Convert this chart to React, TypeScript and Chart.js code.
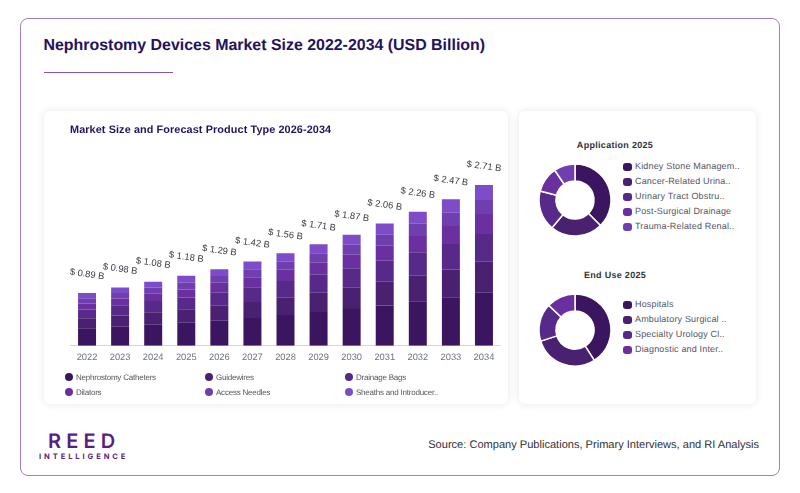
import React, { useEffect, useRef } from "react";
import { Chart, registerables } from "chart.js";

Chart.register(...registerables);

const years = ["2022","2023","2024","2025","2026","2027","2028","2029","2030","2031","2032","2033","2034"];
const totals = [0.89,0.98,1.08,1.18,1.29,1.42,1.56,1.71,1.87,2.06,2.26,2.47,2.71];
const catheters = [0.295,0.32,0.354,0.385,0.422,0.468,0.517,0.568,0.618,0.68,0.748,0.815,0.894];
const guidewires = [0.167,0.19,0.208,0.228,0.253,0.268,0.292,0.326,0.36,0.399,0.433,0.472,0.523];
const drainageBags = [0.15,0.172,0.191,0.2,0.219,0.25,0.281,0.304,0.326,0.354,0.393,0.427,0.467];
const dilators = [0.1,0.116,0.124,0.133,0.169,0.169,0.191,0.202,0.23,0.253,0.275,0.304,0.337];
const accessNeedles = [0.089,0.09,0.105,0.117,0.112,0.135,0.135,0.157,0.169,0.185,0.208,0.226,0.236];
const sheaths = [0.089,0.092,0.098,0.117,0.115,0.13,0.144,0.153,0.167,0.189,0.203,0.226,0.253];
const seriesNames = ["Nephrostomy Catheters","Guidewires","Drainage Bags","Dilators","Access Needles","Sheaths and Introducer.."];
const seriesColors = ["#3b1560","#4a2070","#572a8a","#6a30a0","#6f3fb0","#7d4dc9"];
const seriesValues = [catheters, guidewires, drainageBags, dilators, accessNeedles, sheaths];

const applicationLabels = ["Kidney Stone Managem..","Cancer-Related Urina..","Urinary Tract Obstru..","Post-Surgical Drainage","Trauma-Related Renal.."];
const applicationValues = [37.5,23.5,18,11.5,9.5];
const endUseLabels = ["Hospitals","Ambulatory Surgical ..","Specialty Urology Cl..","Diagnostic and Inter.."];
const endUseValues = [41,29,17,13];

const ARIAL = "'Liberation Sans', Arial, sans-serif";

const totalLabels = {
  id: "totalLabels",
  beforeDraw(chart: any) { chart.ctx.textRendering = "geometricPrecision"; },
  afterDatasetsDraw(chart: any) {
    const { ctx, scales } = chart;
    ctx.save();
    ctx.font = `9.4px ${ARIAL}`;
    ctx.fillStyle = "#3a3a44";
    ctx.textAlign = "center";
    ctx.textBaseline = "middle";
    totals.forEach((t, i) => {
      const x = scales.x.getPixelForValue(i);
      const y = scales.y.getPixelForValue(t) - 18.5;
      ctx.save();
      ctx.translate(x, y);
      ctx.rotate((8 * Math.PI) / 180);
      ctx.fillText(`$ ${t.toFixed(2)} B`, 0, 0);
      ctx.restore();
    });
    ctx.restore();
  },
};

function BarChart() {
  const ref = useRef<HTMLCanvasElement>(null);
  useEffect(() => {
    const chart = new Chart(ref.current!, {
      type: "bar",
      data: {
        labels: years,
        datasets: seriesNames.map((n, i) => ({
          label: n,
          data: seriesValues[i],
          backgroundColor: seriesColors[i],
          borderWidth: 0,
          barPercentage: 0.544,
          categoryPercentage: 1,
        })),
      },
      options: {
        animation: false,
        responsive: false,
        devicePixelRatio: 1,
        layout: { padding: { left: 26.5, right: 7.5, top: 56.8, bottom: 0 } },
        plugins: { legend: { display: false }, tooltip: { enabled: false } },
        scales: {
          x: {
            stacked: true,
            grid: { display: false, drawTicks: false },
            border: { color: "#d6d6e2", width: 1 },
            ticks: { color: "#6b7280", font: { family: ARIAL, size: 9.3 }, padding: 6, maxRotation: 0, autoSkip: false },
            afterFit(s: any) { s.height = 58.3; },
          },
          y: { stacked: true, display: false, min: 0, max: 3 },
        },
      },
      plugins: [totalLabels],
    } as any);
    return () => chart.destroy();
  }, []);
  return <canvas ref={ref} width={464} height={293} style={{ position: "absolute", left: 44, top: 111, display: "block" }} />;
}

function Donut({ values, cy }: { values: number[]; cy: number }) {
  const ref = useRef<HTMLCanvasElement>(null);
  useEffect(() => {
    const chart = new Chart(ref.current!, {
      type: "doughnut",
      data: {
        labels: values.map((_, i) => String(i)),
        datasets: [{ data: values, backgroundColor: seriesColors.slice(0, values.length), borderColor: "#ffffff", borderWidth: 1.5 }],
      },
      options: {
        animation: false,
        responsive: false,
        devicePixelRatio: 1,
        radius: 36,
        cutout: "53%",
        plugins: { legend: { display: false }, tooltip: { enabled: false } },
      },
    } as any);
    return () => chart.destroy();
  }, []);
  return <canvas ref={ref} width={90} height={90} style={{ position: "absolute", left: 530.3, top: cy - 45, display: "block" }} />;
}

function Text({ x, y, children, style }: any) {
  return (
    <div style={{ position: "absolute", left: x, top: y, transform: "translateY(-50%)", whiteSpace: "nowrap", lineHeight: 1, textRendering: "geometricPrecision", ...style }}>
      {children}
    </div>
  );
}

function DonutLegend({ labels, y0 }: { labels: string[]; y0: number }) {
  return (
    <>
      {labels.map((l, i) => (
        <React.Fragment key={l}>
          <div style={{ position: "absolute", left: 623, top: y0 + i * 15 - 4.2, width: 8.5, height: 8.5, borderRadius: 3, background: seriesColors[i] }} />
          <Text x={635} y={y0 + i * 15 - 0.3} style={{ font: `9px ${ARIAL}`, letterSpacing: 0.17, color: "#55555f" }}>{l}</Text>
        </React.Fragment>
      ))}
    </>
  );
}

const legendColX = [69, 209, 349];
const legendRowY = [377, 392];

export default function App() {
  return (
    <div style={{ position: "fixed", left: 0, top: 0, width: 800, height: 493, background: "#fff", overflow: "hidden" }}>
      <div style={{ position: "absolute", left: 20, top: 18, width: 760, height: 458, boxSizing: "border-box", border: "1px solid #a67fc2", borderRadius: 8 }} />
      <Text x={43.5} y={45.5} style={{ font: `bold 15.93px ${ARIAL}`, color: "#24125f" }}>Nephrostomy Devices Market Size 2022-2034 (USD Billion)</Text>
      <div style={{ position: "absolute", left: 44, top: 71.5, width: 129, height: 1.2, background: "#8c52ad" }} />

      <div style={{ position: "absolute", left: 44, top: 111, width: 464, height: 293, borderRadius: 6, background: "#fff", boxShadow: "0 0 8px rgba(0,0,0,0.10)" }} />
      <div style={{ position: "absolute", left: 519, top: 111, width: 237, height: 293, borderRadius: 6, background: "#fff", boxShadow: "0 0 8px rgba(0,0,0,0.10)" }} />

      <BarChart />
      <Text x={70} y={130} style={{ font: `bold 10.85px ${ARIAL}`, color: "#24125f", letterSpacing: 0.1 }}>Market Size and Forecast Product Type 2026-2034</Text>
      {seriesNames.map((n, i) => {
        const cx = legendColX[i % 3];
        const cy = legendRowY[Math.floor(i / 3)];
        return (
          <React.Fragment key={n}>
            <div style={{ position: "absolute", left: cx - 4, top: cy - 4, width: 8, height: 8, borderRadius: "50%", background: seriesColors[i] }} />
            <Text x={cx + 7} y={cy} style={{ font: `8px ${ARIAL}`, letterSpacing: -0.22, color: "#55555f" }}>{n}</Text>
          </React.Fragment>
        );
      })}

      <Text x={615} y={145.2} style={{ font: `bold 9px ${ARIAL}`, letterSpacing: 0.3, color: "#33333b", transform: "translate(-50%,-50%)" }}>Application 2025</Text>
      <Donut values={applicationValues} cy={200.3} />
      <DonutLegend labels={applicationLabels} y0={166.7} />

      <Text x={615} y={275.2} style={{ font: `bold 9px ${ARIAL}`, letterSpacing: 0.3, color: "#33333b", transform: "translate(-50%,-50%)" }}>End Use 2025</Text>
      <Donut values={endUseValues} cy={330.3} />
      <DonutLegend labels={endUseLabels} y0={304.7} />

      <Text x={48} y={441} style={{ font: `600 20px Inter, ${ARIAL}`, letterSpacing: 5.2, color: "#561f85" }}>REED</Text>
      <Text x={39} y={456.3} style={{ font: `bold 7.5px Inter, ${ARIAL}`, letterSpacing: 2.95, color: "#561f85" }}>INTELLIGENCE</Text>
      <div style={{ position: "absolute", right: 41, top: 445, transform: "translateY(-50%)", whiteSpace: "nowrap", lineHeight: 1, textRendering: "geometricPrecision", font: `11.07px ${ARIAL}`, color: "#2f2f38" }}>Source: Company Publications, Primary Interviews, and RI Analysis</div>
    </div>
  );
}
